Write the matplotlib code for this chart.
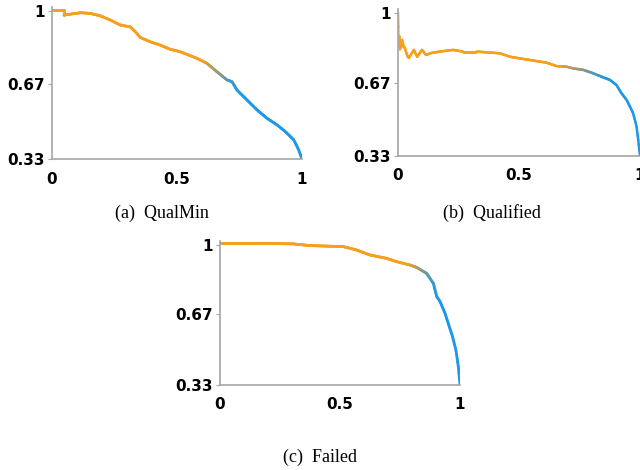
import numpy as np
import matplotlib
matplotlib.use("Agg")
import matplotlib.pyplot as plt
from matplotlib.collections import LineCollection
from matplotlib.colors import to_rgb

# (a) QualMin
qualmin_x = [0.0, 0.047, 0.047, 0.113, 0.153, 0.193, 0.233, 0.273, 0.313, 0.333,
             0.353, 0.393, 0.433, 0.473, 0.513, 0.540, 0.580, 0.620, 0.660, 0.700,
             0.720, 0.740, 0.780, 0.820, 0.860, 0.900, 0.933, 0.967, 0.987, 1.0]
qualmin_y = [1.006, 1.006, 0.983, 0.994, 0.991, 0.980, 0.961, 0.938, 0.930, 0.908,
             0.882, 0.862, 0.847, 0.828, 0.817, 0.805, 0.787, 0.764, 0.726, 0.689,
             0.681, 0.643, 0.598, 0.553, 0.515, 0.485, 0.455, 0.417, 0.371, 0.329]

# (b) Qualified
qualified_x = [0.0, 0.002, 0.004, 0.006, 0.008, 0.011, 0.014, 0.017, 0.022, 0.030,
               0.038, 0.045, 0.056, 0.066, 0.079, 0.099, 0.116, 0.136, 0.172, 0.228,
               0.269, 0.324, 0.421, 0.462, 0.503, 0.559, 0.614, 0.655, 0.697, 0.724,
               0.766, 0.807, 0.848, 0.876, 0.903, 0.924, 0.945, 0.959, 0.972, 0.986,
               0.993, 1.0]
qualified_y = [1.0, 0.87, 0.84, 0.89, 0.83, 0.87, 0.84, 0.874, 0.85, 0.83,
               0.80, 0.789, 0.81, 0.827, 0.794, 0.827, 0.803, 0.812, 0.819, 0.827,
               0.819, 0.819, 0.811, 0.795, 0.787, 0.777, 0.767, 0.751, 0.748, 0.740,
               0.733, 0.717, 0.698, 0.686, 0.662, 0.623, 0.592, 0.560, 0.529, 0.467,
               0.403, 0.333]

# (c) Failed
failed_x = [0.0, 0.167, 0.306, 0.375, 0.514, 0.569, 0.625, 0.694, 0.736, 0.792,
            0.819, 0.861, 0.889, 0.903, 0.917, 0.9375, 0.951, 0.969, 0.983, 0.993, 1.0]
failed_y = [1.008, 1.008, 1.005, 0.997, 0.992, 0.976, 0.952, 0.936, 0.920, 0.904,
            0.893, 0.864, 0.816, 0.753, 0.729, 0.673, 0.625, 0.561, 0.497, 0.418, 0.33]

ORANGE = to_rgb("#F7A01E")
BLUE = to_rgb("#1E98E8")


def gradient_line(ax, x, y, g0, g1, lw=2.0, n=300):
    # split every segment into short pieces so the colour can fade along x
    xs, ys = [], []
    for i in range(len(x) - 1):
        k = max(2, int(np.ceil((x[i + 1] - x[i]) * n)))
        xs.extend(np.linspace(x[i], x[i + 1], k, endpoint=False))
        ys.extend(np.linspace(y[i], y[i + 1], k, endpoint=False))
    xs.append(x[-1])
    ys.append(y[-1])
    xs = np.array(xs)
    pts = np.column_stack([xs, ys]).reshape(-1, 1, 2)
    segs = np.concatenate([pts[:-1], pts[1:]], axis=1)
    t = np.clip((xs[:-1] - g0) / (g1 - g0), 0, 1)[:, None]
    cols = (1 - t) * np.array(ORANGE) + t * np.array(BLUE)
    lc = LineCollection(segs, colors=cols, linewidths=lw, capstyle="round",
                        joinstyle="round")
    ax.add_collection(lc)


def style(ax):
    ax.set_xlim(0, 1)
    ax.set_ylim(0.33, 1.02)
    ax.set_xticks([0, 0.5, 1])
    ax.set_xticklabels(["0", "0.5", "1"])
    ax.set_yticks([0.33, 0.67, 1])
    ax.set_yticklabels(["0.33", "0.67", "1"])
    for s in ["top", "right"]:
        ax.spines[s].set_visible(False)
    for s in ["left", "bottom"]:
        ax.spines[s].set_color("#A6A6A6")
        ax.spines[s].set_linewidth(1.2)
    ax.tick_params(axis="y", length=3, color="#A6A6A6", pad=2)
    ax.tick_params(axis="x", length=0, pad=9)
    for lb in ax.get_xticklabels() + ax.get_yticklabels():
        lb.set_fontweight("bold")
        lb.set_fontsize(11)


fig = plt.figure(figsize=(6.4, 4.7), dpi=100)

ax1 = fig.add_axes([0.08125, 0.6617, 0.3906, 0.3234])
gradient_line(ax1, qualmin_x, qualmin_y, 0.6, 0.74)
style(ax1)

ax2 = fig.add_axes([0.6219, 0.6687, 0.378, 0.3126])
gradient_line(ax2, qualified_x, qualified_y, 0.66, 0.86, lw=1.8)
style(ax2)

ax3 = fig.add_axes([0.34375, 0.1809, 0.375, 0.3068])
gradient_line(ax3, failed_x, failed_y, 0.78, 0.9)
style(ax3)

cap = dict(family="Liberation Serif", fontsize=13, ha="center", va="center")
fig.text(162 / 640, 1 - 213 / 470, "(a)  QualMin", **cap)
fig.text(492 / 640, 1 - 213 / 470, "(b)  Qualified", **cap)
fig.text(320 / 640, 1 - 457 / 470, "(c)  Failed", **cap)

fig.savefig("out.png", dpi=100)
